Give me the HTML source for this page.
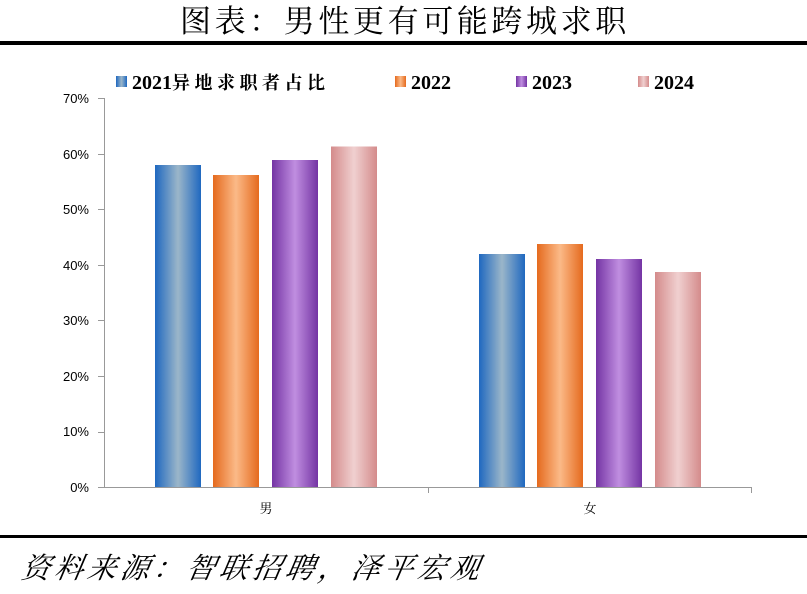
<!DOCTYPE html>
<html><head><meta charset="utf-8"><style>
body{margin:0;background:#fff;width:807px;height:594px;overflow:hidden}
</style></head><body>
<svg width="807" height="594" xmlns="http://www.w3.org/2000/svg" style="display:block">
<defs>
<linearGradient id="gb" x1="0" x2="1"><stop offset="0" stop-color="#1f68c0"/><stop offset="0.5" stop-color="#9bb6c9"/><stop offset="1" stop-color="#1f68c0"/></linearGradient>
<linearGradient id="go" x1="0" x2="1"><stop offset="0" stop-color="#e56a1e"/><stop offset="0.5" stop-color="#fbba88"/><stop offset="1" stop-color="#e56a1e"/></linearGradient>
<linearGradient id="gp" x1="0" x2="1"><stop offset="0" stop-color="#7434a4"/><stop offset="0.5" stop-color="#c08ee0"/><stop offset="1" stop-color="#7434a4"/></linearGradient>
<linearGradient id="gk" x1="0" x2="1"><stop offset="0" stop-color="#d48b8b"/><stop offset="0.5" stop-color="#f0d0d0"/><stop offset="1" stop-color="#d48b8b"/></linearGradient>
</defs>
<text x="180" y="32" font-family="Noto Serif CJK SC, serif" font-size="31" letter-spacing="3.6" fill="#000">图表：男性更有可能跨城求职</text>
<rect x="0" y="41" width="807" height="4" fill="#000"/>
<g font-family="Liberation Serif, Noto Serif CJK SC, serif" font-weight="bold" font-size="20" fill="#000">
<rect x="116" y="76" width="11" height="11" fill="url(#gb)"/><text x="132" y="89">2021<tspan font-size="18" letter-spacing="4.5">异地求职者占比</tspan></text>
<rect x="395" y="76" width="11" height="11" fill="url(#go)"/><text x="411" y="89">2022</text>
<rect x="516" y="76" width="11" height="11" fill="url(#gp)"/><text x="532" y="89">2023</text>
<rect x="638" y="76" width="11" height="11" fill="url(#gk)"/><text x="654" y="89">2024</text>
</g>
<g stroke="#999" stroke-width="1">
<line x1="104.5" y1="98" x2="104.5" y2="487"/>
<line x1="104" y1="487.5" x2="752" y2="487.5"/>
<line x1="98" y1="98.5" x2="104" y2="98.5"/><line x1="98" y1="154.5" x2="104" y2="154.5"/><line x1="98" y1="209.5" x2="104" y2="209.5"/><line x1="98" y1="265.5" x2="104" y2="265.5"/><line x1="98" y1="320.5" x2="104" y2="320.5"/><line x1="98" y1="376.5" x2="104" y2="376.5"/><line x1="98" y1="432.5" x2="104" y2="432.5"/><line x1="98" y1="487.5" x2="104" y2="487.5"/>
<line x1="428.5" y1="487" x2="428.5" y2="493"/><line x1="751.5" y1="487" x2="751.5" y2="493"/>
</g>
<g font-family="Liberation Sans, sans-serif" font-size="13" fill="#000" text-anchor="end">
<text x="89" y="103">70%</text><text x="89" y="159">60%</text><text x="89" y="214">50%</text><text x="89" y="270">40%</text><text x="89" y="325">30%</text><text x="89" y="381">20%</text><text x="89" y="436">10%</text><text x="89" y="492">0%</text>
</g>
<rect x="155" y="165" width="46" height="322" fill="url(#gb)"/>
<rect x="213" y="175" width="46" height="312" fill="url(#go)"/>
<rect x="272" y="160" width="46" height="327" fill="url(#gp)"/>
<rect x="331" y="146.5" width="46" height="340.5" fill="url(#gk)"/>
<rect x="479" y="254" width="46" height="233" fill="url(#gb)"/>
<rect x="537" y="244" width="46" height="243" fill="url(#go)"/>
<rect x="596" y="259" width="46" height="228" fill="url(#gp)"/>
<rect x="655" y="272" width="46" height="215" fill="url(#gk)"/>
<g font-family="Noto Serif CJK SC, serif" font-size="13" text-anchor="middle"><text x="266" y="513">男</text><text x="590" y="513">女</text></g>
<rect x="0" y="535" width="807" height="3" fill="#000"/>
<text x="22" y="578" font-family="Noto Serif CJK SC, serif" font-style="italic" font-size="29" letter-spacing="4" fill="#000" transform="skewX(-10) translate(100,0)">资料来源：智联招聘，泽平宏观</text>
</svg>
</body></html>
